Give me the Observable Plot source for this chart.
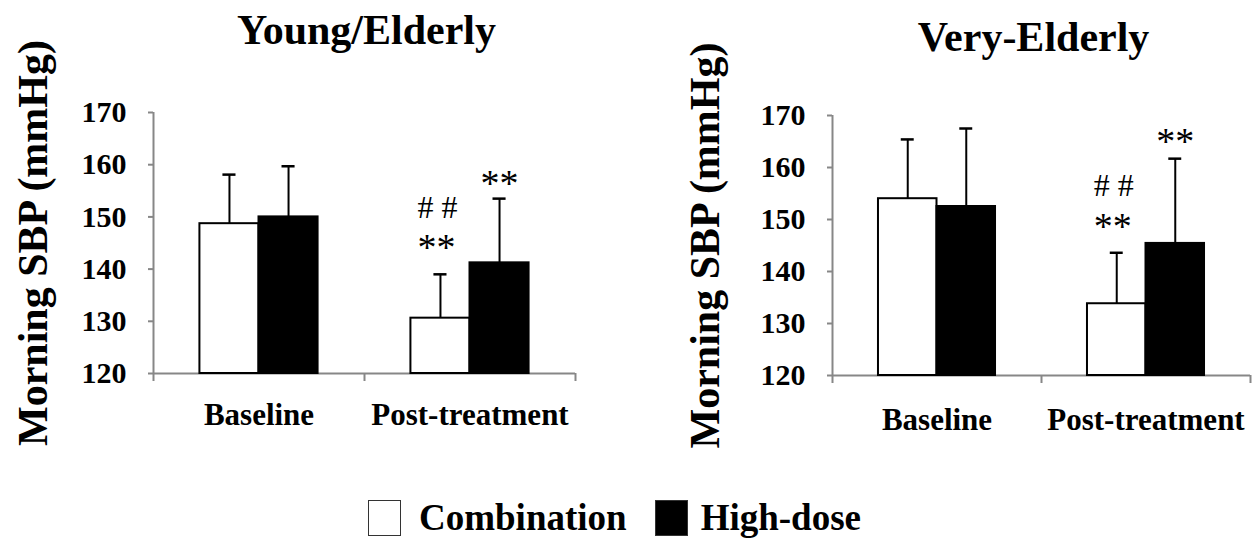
<!DOCTYPE html>
<html>
<head>
<meta charset="utf-8">
<script src="https://cdn.jsdelivr.net/npm/d3@7"></script>
<script src="https://cdn.jsdelivr.net/npm/@observablehq/plot@0.6"></script>
<style>
  html, body { margin: 0; padding: 0; background: #fff; }
  #wrap { position: relative; width: 1256px; height: 542px; overflow: hidden;
          font-family: "Liberation Serif", "Times New Roman", serif; }
  #wrap svg { position: absolute; top: 0; }
  #legend { position: absolute; left: 368px; top: 496px; display: flex; align-items: center;
            font-family: "Liberation Serif", "Times New Roman", serif; font-weight: bold; font-size: 37px; color: #000; }
  .sw { width: 31px; height: 34px; border: 1.5px solid #333; box-sizing: content-box; }
</style>
</head>
<body>
<div id="wrap"></div>
<script>
// ---- data ----
const categories = ["Baseline", "Post-treatment"];
const seriesNames = ["Combination", "High-dose"];
const seriesFills = ["white", "black"];
const yTicks = [120, 130, 140, 150, 160, 170];
const yLabel = "Morning SBP (mmHg)";
const panelTitles = ["Young/Elderly", "Very-Elderly"];

// Young/Elderly
const youngCombination = [148.7, 130.6];
const youngCombinationSD = [9.4, 8.4];
const youngHighDose = [150.0, 141.2];
const youngHighDoseSD = [9.7, 12.3];

// Very-Elderly
const veryCombination = [154.0, 133.8];
const veryCombinationSD = [11.4, 9.8];
const veryHighDose = [152.5, 145.4];
const veryHighDoseSD = [15.0, 16.3];

// significance markers (same in both panels)
const sigCategory = ["Post-treatment", "Post-treatment", "Post-treatment"];
const sigSeries = ["Combination", "Combination", "High-dose"];
const sigText = ["**", "# #", "**"];

// ---- drawing ----
const FONT = "Liberation Serif, Times New Roman, serif";
const GRAY = "#878787";
const BW = 0.28;   // bar width in category units
const CAP = 0.031; // half cap width

function makeRows(comb, combSD, high, highSD) {
  const vals = [comb, high], sds = [combSD, highSD];
  return categories.flatMap((c, i) => seriesNames.map((s, j) => {
    const x1 = i + 0.5 + (j - 1) * BW;
    return {category: c, series: s, fill: seriesFills[j], value: vals[j][i], sd: sds[j][i],
            x1, x2: x1 + BW, cx: x1 + BW / 2, top: vals[j][i] + sds[j][i]};
  }));
}

function panel(o) {
  const rows = makeRows(o.comb, o.combSD, o.high, o.highSD);
  const sig = sigText.map((t, k) => {
    const r = rows.find(d => d.category === sigCategory[k] && d.series === sigSeries[k]);
    return {text: t, cx: r.cx, top: r.top, series: sigSeries[k]};
  });
  const stars = sig.filter(d => d.text === "**");
  const hashes = sig.filter(d => d.text !== "**");
  return Plot.plot({
    width: o.width, height: o.height,
    marginLeft: o.marginLeft, marginRight: o.marginRight,
    marginTop: o.marginTop, marginBottom: o.marginBottom,
    x: {domain: [0, 2], axis: null},
    y: {domain: [120, 170], axis: null},
    style: {fontFamily: FONT, background: "transparent", overflow: "visible", color: "black"},
    marks: [
      Plot.ruleY([120], {stroke: GRAY, strokeWidth: 2}),
      Plot.axisX({ticks: [0, 1, 2], tickFormat: () => "", tickSize: 8, stroke: GRAY, strokeWidth: 2, label: null}),
      Plot.ruleX([0], {stroke: GRAY, strokeWidth: 2}),
      Plot.axisY({ticks: yTicks, tickSize: 5, tickPadding: 22, stroke: GRAY, strokeWidth: 2,
                  fontSize: 30, fontWeight: "bold", fill: "black", label: null}),
      Plot.ruleX(rows, {x: "cx", y1: "value", y2: "top", stroke: "black", strokeWidth: 2}),
      Plot.ruleY(rows, {y: "top", x1: d => d.cx - CAP, x2: d => d.cx + CAP, stroke: "black", strokeWidth: 2.5}),
      Plot.rectY(rows.filter(d => d.series === seriesNames[0]),
                 {x1: "x1", x2: "x2", y1: 120, y2: "value", fill: seriesFills[0], stroke: "black", strokeWidth: 2}),
      Plot.rectY(rows.filter(d => d.series === seriesNames[1]),
                 {x1: "x1", x2: "x2", y1: 120, y2: "value", fill: seriesFills[1], stroke: "black", strokeWidth: 2}),
      // category labels
      Plot.text(categories, {x: (d, i) => i + 0.5, y: 120, text: d => d, dy: o.xLabelDy,
                             fontSize: 31, fontWeight: "bold", fontFamily: FONT, fill: "black"}),
      // panel title
      Plot.text([o.title], {frameAnchor: "top", lineAnchor: "middle", dx: o.titleDx, dy: o.titleDy, fontSize: 42,
                            fontWeight: "bold", fontFamily: FONT, fill: "black"}),
      // y axis title
      Plot.text([yLabel], {frameAnchor: "left", textAnchor: "middle", lineAnchor: "middle", dx: o.yLabelDx, rotate: -90,
                           fontSize: 42, fontWeight: "bold", fontFamily: FONT, fill: "black"}),
      // significance markers
      Plot.text(stars.filter(d => d.series === seriesNames[0]), {x: "cx", y: "top", text: "text", dx: -4, dy: -26,
                           fontSize: 38, fontFamily: FONT, fill: "black"}),
      Plot.text(stars.filter(d => d.series === seriesNames[1]), {x: "cx", y: "top", text: "text", dy: o.starDy,
                           fontSize: 38, fontFamily: FONT, fill: "black"}),
      Plot.text(hashes, {x: "cx", y: "top", text: "text", dx: -3, dy: -67,
                         fontSize: 32, fontFamily: FONT, fill: "black"})
    ]
  });
}

const wrap = document.getElementById("wrap");
const left = panel({title: panelTitles[0], comb: youngCombination, combSD: youngCombinationSD,
                    high: youngHighDose, highSD: youngHighDoseSD,
                    width: 628, height: 470, marginLeft: 153, marginRight: 53, marginTop: 112, marginBottom: 97,
                    titleDx: 2, titleDy: -82, yLabelDx: -120, xLabelDy: 42, starDy: -15});
left.style.left = "0px";
const right = panel({title: panelTitles[1], comb: veryCombination, combSD: veryCombinationSD,
                     high: veryHighDose, highSD: veryHighDoseSD,
                     width: 628, height: 470, marginLeft: 204, marginRight: 6, marginTop: 115, marginBottom: 95,
                     titleDx: -8, titleDy: -78, yLabelDx: -127, xLabelDy: 45, starDy: -17});
right.style.left = "628px";
wrap.appendChild(left);
wrap.appendChild(right);

// legend
const legend = document.createElement("div");
legend.id = "legend";
seriesNames.forEach((name, j) => {
  const sw = document.createElement("div");
  sw.className = "sw";
  sw.style.background = seriesFills[j];
  sw.style.marginLeft = j === 0 ? "0px" : "28px";
  const lab = document.createElement("span");
  lab.textContent = name;
  lab.style.marginLeft = j === 0 ? "18px" : "13px";
  legend.appendChild(sw);
  legend.appendChild(lab);
});
wrap.appendChild(legend);
</script>
</body>
</html>
